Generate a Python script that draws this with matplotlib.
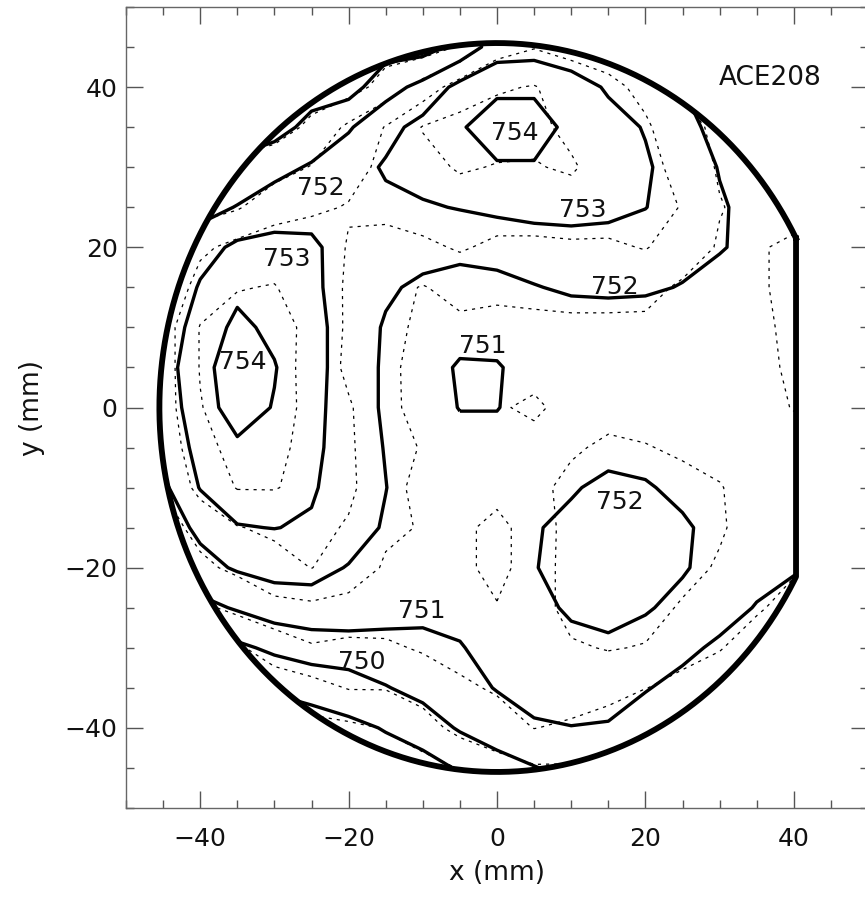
import numpy as np
import matplotlib
matplotlib.use("Agg")
import matplotlib.pyplot as plt
from matplotlib.path import Path
from matplotlib.patches import PathPatch
from matplotlib.ticker import MultipleLocator

plt.rcParams['font.family'] = ['DejaVu Sans']

# measurement grid (mm), rows listed from top (y=50) to bottom (y=-50)
x_mm = np.arange(-50, 51, 5)
y_mm = np.arange(50, -51, -5)

# map drawn with thick solid contours
map_solid = [
    [750.0, 750.0, 750.2, 750.3, 750.4, 750.5, 750.5, 750.5, 750.5, 751.1, 752.4, 752.5, 752.3, 752.2, 752.0, 751.8, 751.6, 751.5, 751.5, 751.5, 751.5],
    [750.2, 750.3, 750.4, 750.5, 750.6, 750.6, 750.6, 750.6, 750.6, 751.3, 752.5, 752.6, 752.4, 752.3, 752.2, 752.0, 751.7, 751.5, 751.5, 751.5, 751.5],
    [750.2, 750.3, 750.4, 750.5, 750.5, 750.55, 750.6, 751.6, 752.3, 753.3, 753.8, 753.8, 753.4, 752.9, 752.5, 752.0, 751.6, 751.5, 751.5, 751.5, 751.5],
    [750.3, 750.4, 750.5, 750.55, 750.6, 751.3, 751.9, 752.7, 753.3, 753.9, 754.5, 754.5, 753.7, 753.3, 752.95, 752.3, 751.7, 751.5, 751.5, 751.5, 751.5],
    [750.6, 750.8, 751.0, 751.2, 751.7, 752.1, 752.6, 753.1, 753.4, 753.6, 753.9, 753.9, 753.6, 753.3, 753.1, 752.6, 751.95, 751.5, 751.5, 751.5, 751.5],
    [751.0, 751.3, 751.6, 752.05, 752.5, 752.6, 752.55, 752.8, 752.9, 753.05, 753.2, 753.3, 753.35, 753.25, 753.02, 752.6, 752.1, 751.7, 751.6, 751.6, 751.6],
    [751.2, 751.6, 752.6, 753.2, 753.3, 753.2, 752.5, 752.35, 752.4, 752.3, 752.4, 752.55, 752.6, 752.6, 752.55, 752.35, 752.05, 751.8, 751.9, 751.8, 751.7],
    [751.3, 752.0, 753.1, 753.8, 753.6, 753.2, 752.55, 752.15, 751.8, 751.6, 751.7, 751.95, 752.15, 752.2, 752.15, 751.95, 751.75, 751.6, 751.7, 751.7, 751.6],
    [751.5, 752.3, 753.5, 754.2, 753.8, 753.3, 752.6, 751.9, 751.45, 751.35, 751.35, 751.4, 751.45, 751.45, 751.45, 751.45, 751.45, 751.5, 751.65, 751.6, 751.6],
    [751.5, 752.55, 753.7, 754.5, 754.05, 753.3, 752.6, 751.85, 751.4, 750.9, 750.93, 751.35, 751.4, 751.4, 751.45, 751.45, 751.45, 751.5, 751.6, 751.6, 751.6],
    [751.6, 752.4, 753.6, 754.4, 753.95, 753.25, 752.6, 751.85, 751.4, 750.97, 750.97, 751.35, 751.4, 751.45, 751.45, 751.45, 751.45, 751.5, 751.55, 751.5, 751.5],
    [751.5, 752.4, 753.25, 753.85, 753.6, 753.2, 752.6, 751.95, 751.45, 751.3, 751.3, 751.4, 751.5, 751.65, 751.6, 751.45, 751.4, 751.4, 751.4, 751.3, 751.3],
    [751.3, 751.8, 753.05, 753.5, 753.4, 753.1, 752.55, 752.02, 751.4, 751.35, 751.35, 751.45, 751.9, 752.25, 752.1, 751.75, 751.5, 751.4, 751.35, 751.2, 751.1],
    [751.0, 751.5, 752.2, 752.95, 753.02, 752.9, 752.45, 751.9, 751.4, 751.35, 751.4, 751.92, 752.25, 752.4, 752.35, 752.15, 751.65, 751.4, 751.3, 751.1, 751.0],
    [750.5, 751.1, 751.7, 752.1, 752.3, 752.3, 751.95, 751.6, 751.4, 751.35, 751.45, 751.95, 752.4, 752.45, 752.35, 752.1, 751.6, 751.3, 751.1, 750.8, 750.6],
    [750.0, 750.4, 750.7, 751.1, 751.5, 751.6, 751.55, 751.4, 751.3, 751.25, 751.35, 751.7, 752.15, 752.25, 752.1, 751.7, 751.35, 750.95, 750.6, 750.3, 750.2],
    [749.5, 749.6, 749.7, 749.8, 750.2, 750.5, 750.6, 750.65, 750.7, 750.95, 751.3, 751.45, 751.7, 751.85, 751.55, 751.2, 750.85, 750.5, 750.3, 750.1, 750.05],
    [748.7, 748.8, 748.9, 748.95, 749.1, 749.3, 749.5, 749.95, 750.3, 750.65, 751.05, 751.3, 751.35, 751.25, 751.05, 750.75, 750.5, 750.3, 750.1, 750.05, 749.9],
    [748.3, 748.4, 748.5, 748.5, 748.5, 748.6, 748.8, 749.05, 749.5, 750.1, 750.5, 750.9, 750.98, 750.95, 750.6, 750.4, 750.2, 750.05, 749.9, 749.8, 749.7],
    [748.0, 748.1, 748.2, 748.3, 748.4, 748.5, 748.5, 748.6, 748.6, 749.1, 749.6, 749.95, 750.3, 750.3, 750.2, 750.1, 750.05, 749.9, 749.8, 749.7, 749.6],
    [747.8, 747.9, 748.0, 748.1, 748.2, 748.3, 748.4, 748.4, 748.5, 748.9, 749.3, 749.7, 750.05, 750.1, 750.05, 749.9, 749.8, 749.7, 749.6, 749.5, 749.4],
]

# second map drawn with thin dotted contours
map_dotted = [
    [750.0, 750.0, 750.2, 750.3, 750.4, 750.5, 750.5, 750.5, 750.6, 751.3, 752.6, 752.8, 752.5, 752.3, 752.1, 751.9, 751.7, 751.5, 751.5, 751.5, 751.5],
    [750.2, 750.3, 750.4, 750.5, 750.6, 750.6, 750.6, 750.6, 750.5, 751.1, 752.6, 752.95, 752.7, 752.4, 752.2, 752.05, 751.7, 751.5, 751.5, 751.5, 751.5],
    [750.2, 750.3, 750.4, 750.5, 750.5, 750.55, 750.55, 751.4, 752.4, 753.5, 753.9, 754.05, 753.6, 753.3, 752.7, 751.9, 751.6, 751.5, 751.5, 751.5, 751.5],
    [750.3, 750.4, 750.5, 750.55, 750.55, 751.2, 752.2, 753.05, 754.05, 754.3, 754.4, 754.2, 753.8, 753.5, 753.15, 752.3, 751.8, 751.5, 751.5, 751.5, 751.5],
    [750.6, 750.8, 750.95, 751.2, 751.6, 752.05, 752.7, 753.2, 753.7, 754.1, 753.95, 753.95, 754.1, 753.6, 753.4, 752.6, 751.9, 751.5, 751.5, 751.5, 751.5],
    [750.95, 751.3, 751.6, 751.9, 752.6, 752.85, 753.05, 753.3, 753.5, 753.5, 753.5, 753.5, 753.6, 753.5, 753.4, 752.95, 752.05, 751.7, 751.6, 751.6, 751.6],
    [751.2, 751.9, 752.8, 753.3, 753.5, 753.5, 752.95, 752.6, 752.8, 753.1, 752.8, 752.8, 752.85, 752.85, 753.05, 752.55, 751.9, 751.9, 752.2, 752.2, 752.05],
    [751.3, 752.1, 753.4, 753.95, 754.05, 753.5, 752.9, 752.3, 751.95, 752.3, 752.2, 752.3, 752.35, 752.35, 752.3, 751.85, 751.7, 751.85, 752.3, 752.2, 752.05],
    [751.6, 752.5, 754.05, 754.4, 754.3, 753.8, 752.85, 752.3, 751.8, 751.8, 751.75, 751.75, 751.8, 751.8, 751.8, 751.75, 751.7, 751.8, 752.2, 752.1, 751.9],
    [751.6, 752.5, 754.05, 754.5, 754.4, 753.7, 752.8, 752.2, 751.7, 751.55, 751.5, 751.5, 751.55, 751.6, 751.6, 751.6, 751.6, 751.75, 752.15, 752.1, 751.9],
    [751.6, 752.5, 753.95, 754.6, 754.3, 753.8, 753.1, 752.3, 751.6, 751.4, 751.15, 750.75, 751.5, 751.6, 751.6, 751.6, 751.55, 751.6, 752.05, 752.05, 751.8],
    [751.5, 752.3, 753.7, 754.3, 754.3, 753.6, 753.15, 752.3, 751.95, 751.55, 751.5, 751.5, 751.85, 752.2, 752.05, 751.85, 751.7, 751.45, 751.5, 751.4, 751.3],
    [751.3, 752.05, 753.3, 754.05, 754.05, 753.7, 753.2, 752.3, 751.75, 751.4, 751.3, 751.7, 752.3, 752.5, 752.45, 752.3, 752.05, 751.6, 751.4, 751.3, 751.2],
    [750.95, 751.6, 752.3, 752.95, 753.2, 753.3, 752.9, 752.15, 751.95, 751.2, 750.75, 751.4, 752.4, 752.6, 752.55, 752.4, 752.1, 751.6, 751.3, 751.1, 750.95],
    [750.5, 751.2, 751.8, 752.2, 752.6, 753.02, 752.5, 751.9, 751.4, 751.2, 750.75, 751.4, 752.45, 752.6, 752.5, 752.3, 751.9, 751.5, 751.1, 750.8, 750.6],
    [750.05, 750.5, 750.8, 751.25, 751.75, 751.8, 751.7, 751.5, 751.4, 751.3, 751.05, 751.6, 752.3, 752.45, 752.35, 751.9, 751.5, 751.1, 750.7, 750.4, 750.2],
    [749.5, 749.6, 749.7, 749.9, 750.35, 750.9, 750.75, 750.85, 751.1, 751.3, 751.5, 751.7, 751.9, 752.05, 751.95, 751.3, 751.05, 750.6, 750.3, 750.1, 750.05],
    [748.7, 748.8, 748.9, 748.95, 749.6, 749.65, 750.05, 750.05, 750.4, 750.85, 751.1, 751.4, 751.5, 751.4, 751.02, 750.75, 750.5, 750.3, 750.1, 750.05, 749.9],
    [748.3, 748.4, 748.5, 748.5, 748.5, 748.7, 748.8, 749.05, 749.6, 750.3, 750.6, 751.02, 750.85, 750.5, 750.1, 749.9, 749.8, 749.8, 749.7, 749.6, 749.5],
    [748.0, 748.1, 748.2, 748.3, 748.4, 748.5, 748.5, 748.6, 748.6, 749.05, 749.6, 749.9, 749.9, 749.8, 749.7, 749.6, 749.6, 749.5, 749.5, 749.5, 749.4],
    [747.8, 747.9, 748.0, 748.1, 748.2, 748.3, 748.4, 748.4, 748.5, 748.8, 749.2, 749.5, 749.5, 749.5, 749.4, 749.3, 749.3, 749.2, 749.2, 749.2, 749.1],
]

levels = [749, 750, 751, 752, 753, 754]

# contour labels
label_text = ['754', '753', '752', '753', '754', '752', '751', '752', '751', '750']
label_x = [2.4, 11.6, -23.7, -28.3, -34.2, 15.9, -1.9, 16.6, -10.1, -18.2]
label_y = [34.3, 24.7, 27.4, 18.6, 5.7, 15.1, 7.7, -11.8, -25.4, -31.8]

wafer_radius = 45.5
flat_x = 40.3

# ---- figure ---------------------------------------------------------
fig = plt.figure(figsize=(8.65, 8.99), dpi=100)
ax = fig.add_axes([126 / 865, 1 - 808 / 899, 742 / 865, 801 / 899])

yy = y_mm[::-1]
z_solid = np.array(map_solid)[::-1]
z_dotted = np.array(map_dotted)[::-1]

# wafer outline: circle with a flat on the right
half = np.sqrt(wafer_radius ** 2 - flat_x ** 2)
t0 = np.arctan2(half, flat_x)
t = np.linspace(t0, 2 * np.pi - t0, 400)
ox = np.append(wafer_radius * np.cos(t), flat_x)
oy = np.append(wafer_radius * np.sin(t), half)
clip = PathPatch(Path(np.column_stack([ox, oy])), transform=ax.transData,
                 facecolor='none', edgecolor='none')

cs2 = ax.contour(x_mm, yy, z_dotted, levels=levels, colors='k', linewidths=0.9)
cs2.set_linestyle((0, (2.5, 4)))
cs2.set_clip_path(clip)

cs1 = ax.contour(x_mm, yy, z_solid, levels=levels, colors='k', linewidths=2.4)
cs1.set_clip_path(clip)

ax.plot(ox, oy, color='k', lw=4.2, solid_joinstyle='round', zorder=5)

for s, lx, ly in zip(label_text, label_x, label_y):
    ax.text(lx, ly, s, fontsize=18, ha='center', va='center', color='#111111', zorder=6)

ax.text(29.9, 41.1, 'ACE208', fontsize=19, ha='left', va='center', color='#111111')

ax.set_xlim(-50, 50)
ax.set_ylim(-50, 50)
for axis in (ax.xaxis, ax.yaxis):
    axis.set_major_locator(MultipleLocator(20))
    axis.set_minor_locator(MultipleLocator(5))
ax.tick_params(which='both', direction='in', top=True, right=True,
               colors='#555555', labelcolor='#111111', labelsize=18)
ax.tick_params(which='major', length=12, width=1)
ax.tick_params(which='minor', length=6, width=1)
ax.tick_params(axis='x', pad=14)
ax.tick_params(axis='y', pad=6)
for sp in ax.spines.values():
    sp.set_color('#666666')
    sp.set_linewidth(1)

ax.set_xlabel('x (mm)', fontsize=19, labelpad=6, color='#111111')
ax.set_ylabel('y (mm)', fontsize=19, labelpad=14, color='#111111')

plt.savefig('out.png', dpi=100)
